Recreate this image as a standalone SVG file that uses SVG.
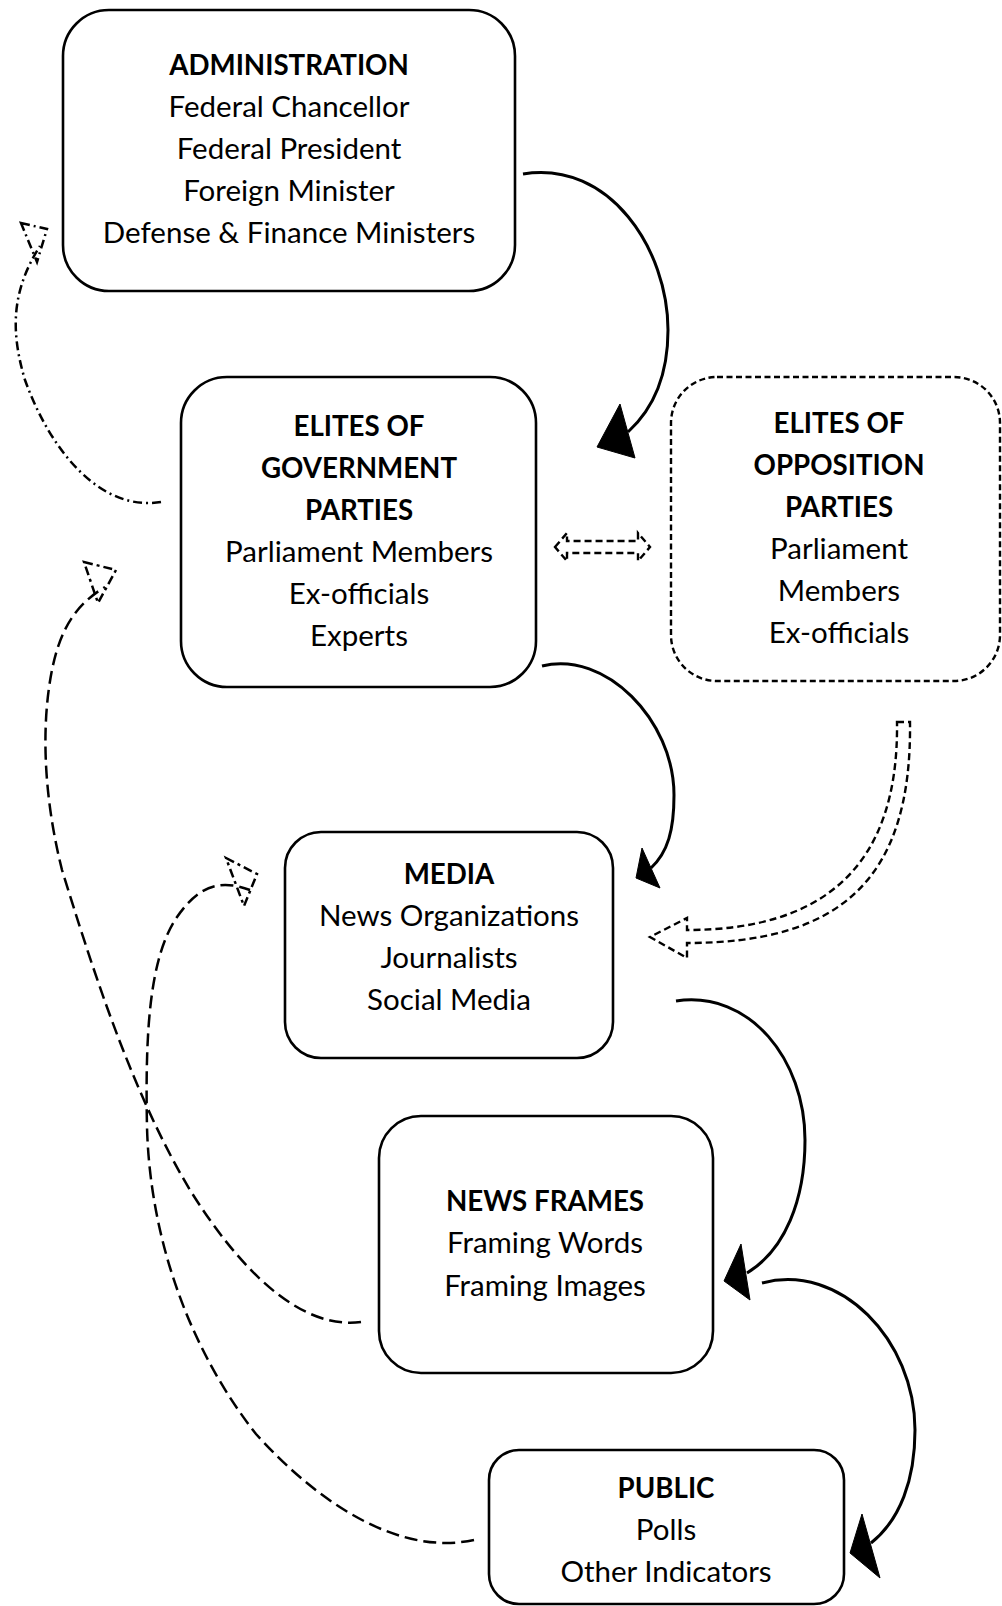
<svg xmlns="http://www.w3.org/2000/svg" width="1002" height="1606" viewBox="0 0 1002 1606">
<style>
.box{fill:#fff;stroke:#000;stroke-width:2.6}
.dbox{fill:#fff;stroke:#000;stroke-width:2.4;stroke-dasharray:6 3.5}
text{font-family:Lato,"Liberation Sans",sans-serif;font-size:29.5px;fill:#000;text-anchor:middle}
.h{font-weight:bold;font-size:27.7px}
.solid{fill:none;stroke:#000;stroke-width:3}
.head{fill:#000;stroke:#000;stroke-width:1;stroke-linejoin:miter}
.dash{fill:none;stroke:#000;stroke-width:2.5;stroke-dasharray:13 6}
.dhead{fill:none;stroke:#000;stroke-width:2.5;stroke-dasharray:9 4 3 4}
.ddot{fill:none;stroke:#000;stroke-width:2.5;stroke-dasharray:9 4 2 4}
.block{fill:none;stroke:#000;stroke-width:2.4;stroke-dasharray:7 4}
</style>
<g id="connectors">
<path class="solid" d="M523,174 C610,160 668,250 668,330 C668,378 652,410 628,432"/>
<polygon class="head" points="620,404 597,447 635,458"/>
<path class="solid" d="M542,666 C605,650 674,720 674,795 C674,830 668,852 651,868"/>
<polygon class="head" points="642,848 636,878 660,888"/>
<path class="solid" d="M676,1001 C750,990 805,1060 805,1140 C805,1200 785,1250 747,1273"/>
<polygon class="head" points="741,1244 724,1281 750,1300"/>
<path class="solid" d="M762,1283 C840,1262 915,1340 915,1430 C915,1480 900,1520 871,1543"/>
<polygon class="head" points="862,1514 850,1553 880,1578"/>
<path class="ddot" d="M161,502 C100,512 50,450 25,380 C10,330 12,290 40,246"/>
<polygon class="ddot" points="21,223 47,229 37,262"/>
<path class="dash" d="M361,1322 C300,1330 240,1270 190,1190 C130,1090 90,960 62,870 C42,790 42,720 52,670 C60,630 75,605 105,587"/>
<polygon class="dhead" points="84,562 116,570 98,603"/>
<path class="dash" d="M474,1540 C400,1556 320,1505 256,1434 C190,1350 150,1240 147,1127 C145,1030 150,960 175,920 C195,890 215,877 250,890"/>
<polygon class="dhead" points="226,858 257,874 244,906"/>
<polygon class="block" points="555,547 567,533 567,541 638,541 638,533 650,547 638,561 638,553 567,553 567,561"/>
<path class="block" d="M897,722 L910,722 C912,880 840,943 687,943 L687,958 L650,937 L687,918 L687,930 C822,930 899,868 897,722 Z"/>
</g>
<g id="administration">
<rect class="box" x="63" y="10" width="452" height="281" rx="46"/>
<text class="h" x="289" y="75">ADMINISTRATION</text>
<text x="289" y="117">Federal Chancellor</text>
<text x="289" y="159">Federal President</text>
<text x="289" y="201">Foreign Minister</text>
<text x="289" y="243">Defense &amp; Finance Ministers</text>
</g>
<g id="elites-government">
<rect class="box" x="181" y="377" width="355" height="310" rx="46"/>
<text class="h" x="359" y="436">ELITES OF</text>
<text class="h" x="359" y="478">GOVERNMENT</text>
<text class="h" x="359" y="520">PARTIES</text>
<text x="359" y="562">Parliament Members</text>
<text x="359" y="604">Ex-officials</text>
<text x="359" y="646">Experts</text>
</g>
<g id="elites-opposition">
<rect class="dbox" x="671" y="377" width="329" height="304" rx="46"/>
<text class="h" x="839" y="433">ELITES OF</text>
<text class="h" x="839" y="475">OPPOSITION</text>
<text class="h" x="839" y="517">PARTIES</text>
<text x="839" y="559">Parliament</text>
<text x="839" y="601">Members</text>
<text x="839" y="643">Ex-officials</text>
</g>
<g id="media">
<rect class="box" x="285" y="832" width="328" height="226" rx="36"/>
<text class="h" x="449" y="884">MEDIA</text>
<text x="449" y="926">News Organizations</text>
<text x="449" y="968">Journalists</text>
<text x="449" y="1010">Social Media</text>
</g>
<g id="news-frames">
<rect class="box" x="379" y="1116" width="334" height="257" rx="42"/>
<text class="h" x="545" y="1211">NEWS FRAMES</text>
<text x="545" y="1253">Framing Words</text>
<text x="545" y="1296">Framing Images</text>
</g>
<g id="public">
<rect class="box" x="489" y="1450" width="355" height="154" rx="30"/>
<text class="h" x="666" y="1498">PUBLIC</text>
<text x="666" y="1540">Polls</text>
<text x="666" y="1582">Other Indicators</text>
</g>
</svg>
